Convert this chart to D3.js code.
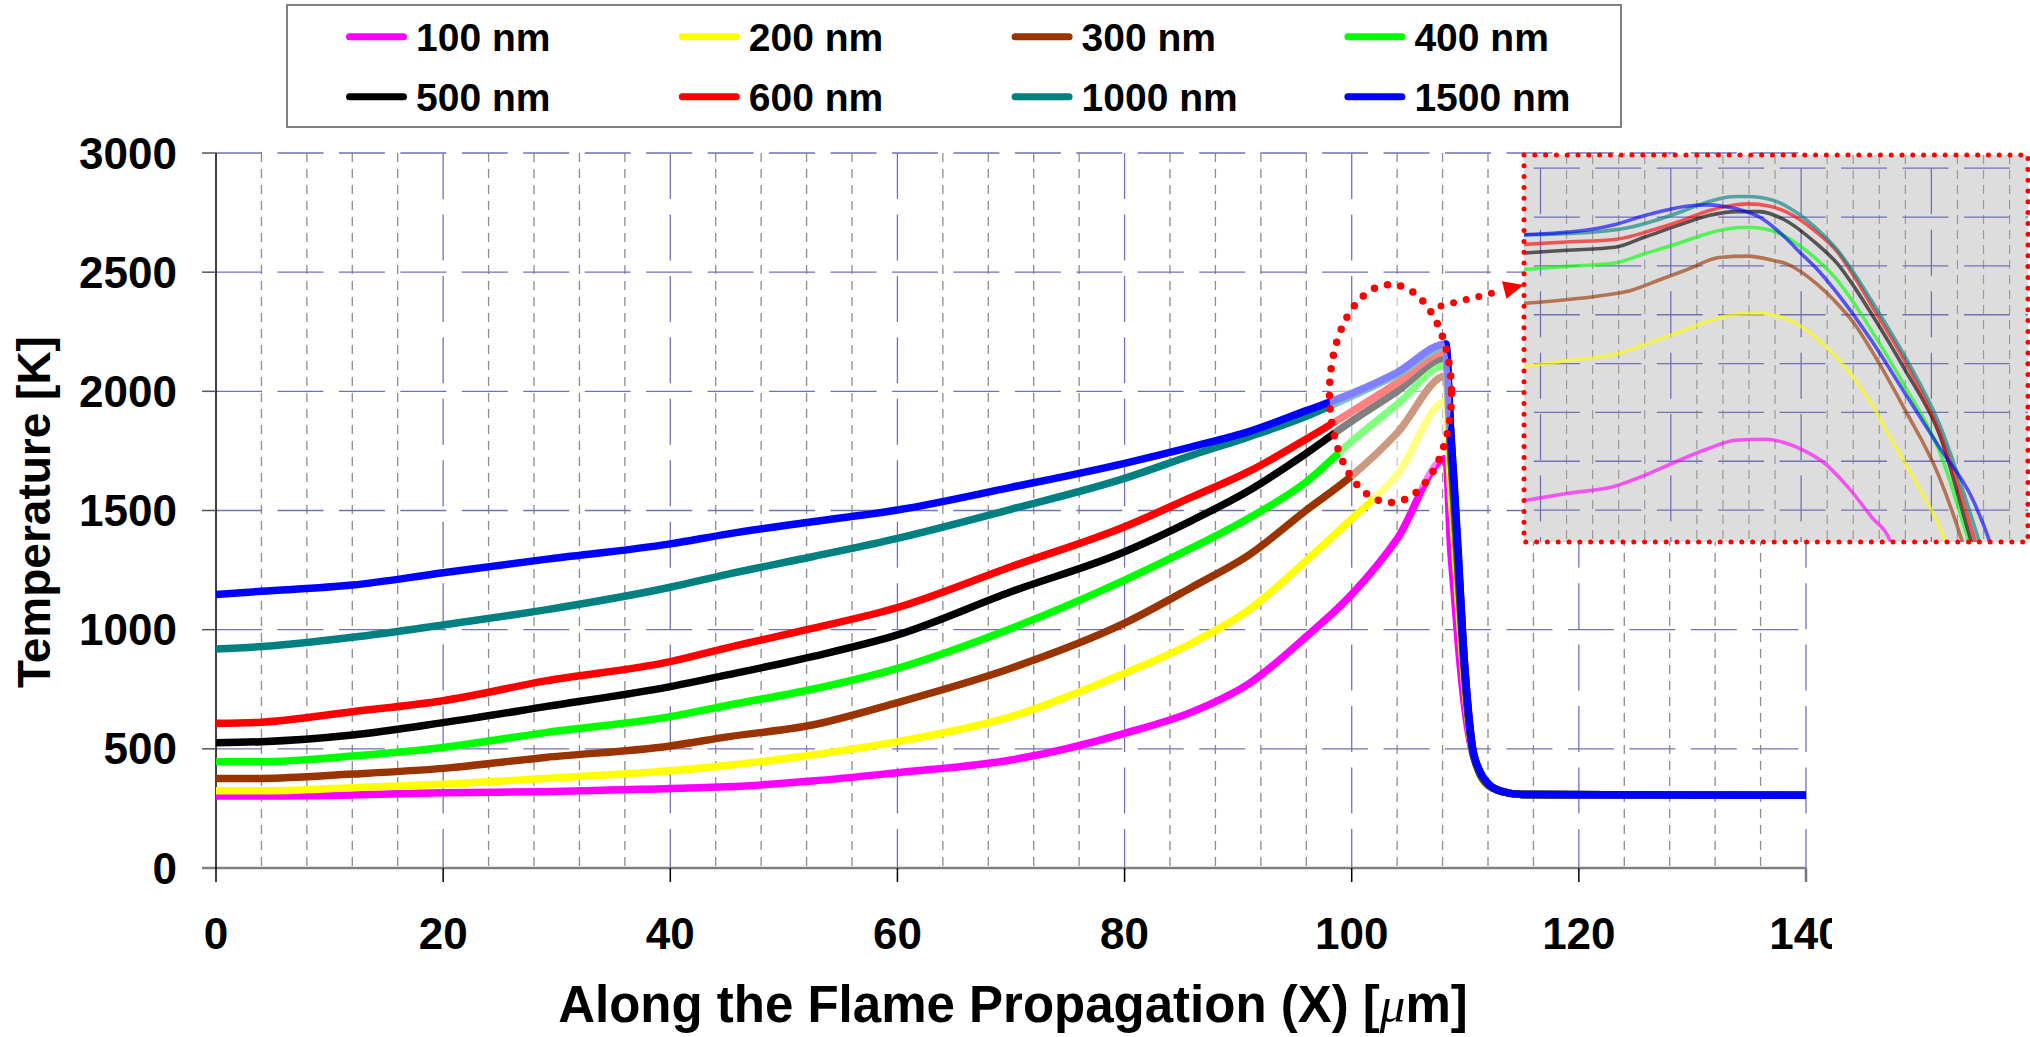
<!DOCTYPE html>
<meta charset="utf-8">
<script src="https://cdn.jsdelivr.net/npm/d3@7"></script>
<style>
body { margin: 0; background: #fff; }
text { font-family: "Liberation Sans", Arial, sans-serif; font-weight: bold; fill: #000; }
</style>
<body>
<script>

var W = 2030, H = 1037

// series
var seriesNames = ["100 nm", "200 nm", "300 nm", "400 nm", "500 nm", "600 nm", "1000 nm", "1500 nm"]
var seriesColors = ["#ff00ff", "#ffff00", "#993300", "#00ff00", "#000000", "#ff0000", "#008080", "#0000ff"]

// main chart: x in micron, temperature in K
var xPos = [0, 4, 12, 20, 29, 40, 45, 52.5, 60, 70, 80, 86, 91, 96, 100, 104, 108.3, 108.7, 109, 109.4, 109.8, 110.2, 110.6, 111.2, 112, 113.3, 115, 140]

var temp100  = [302, 302, 306, 316, 320, 334, 341, 365, 400, 453, 565, 656, 775, 971, 1148, 1381, 1718, 1350, 1170, 930, 735, 590, 490, 410, 350, 322, 308, 305]
var temp200  = [324, 324, 337, 351, 376, 408, 430, 474, 530, 635, 817, 945, 1085, 1290, 1465, 1650, 1959, 1600, 1400, 1100, 850, 640, 500, 405, 348, 321, 308, 305]
var temp300  = [376, 376, 394, 418, 464, 512, 550, 600, 694, 838, 1027, 1180, 1315, 1501, 1645, 1825, 2065, 1750, 1520, 1200, 900, 660, 505, 403, 347, 321, 308, 305]
var temp400  = [446, 446, 470, 506, 568, 635, 682, 750, 838, 1005, 1208, 1345, 1470, 1620, 1790, 1945, 2110, 1800, 1560, 1240, 930, 670, 508, 405, 350, 320, 308, 305]
var temp500  = [526, 530, 558, 610, 677, 761, 810, 887, 978, 1159, 1327, 1460, 1585, 1740, 1875, 2000, 2140, 1820, 1580, 1260, 940, 680, 510, 408, 352, 320, 308, 305]
var temp600  = [607, 612, 656, 702, 785, 866, 924, 1005, 1093, 1264, 1432, 1558, 1665, 1800, 1915, 2035, 2165, 1830, 1600, 1280, 950, 690, 512, 410, 353, 320, 308, 305]
var temp1000 = [919, 929, 968, 1020, 1083, 1178, 1232, 1306, 1383, 1505, 1635, 1733, 1810, 1895, 1980, 2070, 2185, 1840, 1615, 1295, 950, 690, 515, 412, 355, 320, 308, 305]
var temp1500 = [1148, 1161, 1187, 1239, 1295, 1360, 1401, 1453, 1502, 1597, 1698, 1768, 1832, 1919, 1991, 2079, 2199, 1850, 1629, 1308, 950, 700, 515, 415, 355, 320, 308, 305]

var xTicks = [0, 20, 40, 60, 80, 100, 120, 140]
var yTicks = [0, 500, 1000, 1500, 2000, 2500, 3000]

// magnified peak (inset): [x micron, T K]
var inset100  = [[106.8,1616],[107.2,1634],[107.57,1649],[107.8,1671],[108.03,1698],[108.27,1724],[108.5,1743],[108.73,1745],[108.86,1739],[109.07,1715],[109.17,1698],[109.36,1647],[109.54,1586],[109.69,1533],[109.74,1490]]
var inset200  = [[106.8,1890],[107.2,1906],[107.59,1920],[107.85,1944],[108.06,1964],[108.27,1985],[108.5,2001],[108.68,2003],[108.81,1998],[108.99,1978],[109.17,1940],[109.36,1886],[109.54,1818],[109.67,1756],[109.8,1695],[109.93,1634],[110.11,1533],[110.16,1490]]
var inset300  = [[106.8,2022],[107.46,2039],[107.67,2048],[107.9,2070],[108.14,2094],[108.37,2117],[108.59,2120],[108.79,2111],[108.89,2104],[109.12,2063],[109.28,2022],[109.41,1981],[109.54,1927],[109.8,1804],[110.06,1668],[110.24,1533],[110.29,1490]]
var inset400  = [[106.8,2091],[107.2,2099],[107.57,2106],[107.8,2125],[108.09,2149],[108.29,2167],[108.5,2178],[108.59,2179],[108.79,2171],[108.97,2145],[109.17,2101],[109.28,2070],[109.41,2022],[109.54,1968],[109.8,1852],[110.06,1722],[110.29,1533],[110.34,1490]]
var inset500  = [[106.8,2125],[107.2,2132],[107.57,2138],[107.8,2159],[108.09,2186],[108.29,2203],[108.5,2211],[108.68,2211],[108.86,2196],[109.12,2145],[109.28,2104],[109.41,2056],[109.54,2002],[109.8,1886],[110.06,1756],[110.31,1533],[110.36,1490]]
var inset600  = [[106.8,2143],[107.2,2149],[107.57,2154],[107.88,2175],[108.09,2193],[108.29,2213],[108.5,2225],[108.59,2227],[108.76,2222],[108.89,2210],[109.1,2173],[109.28,2128],[109.41,2077],[109.54,2019],[109.8,1903],[110.06,1763],[110.34,1533],[110.39,1490]]
var inset1000 = [[106.8,2163],[107.39,2169],[107.67,2178],[107.88,2193],[108.09,2212],[108.24,2227],[108.4,2239],[108.5,2242],[108.59,2242],[108.79,2234],[108.92,2217],[109.1,2181],[109.28,2132],[109.41,2084],[109.54,2029],[109.8,1913],[110.06,1777],[110.37,1533],[110.42,1490]]
var inset1500 = [[106.8,2163],[107.37,2174],[107.59,2186],[107.8,2203],[108.03,2218],[108.19,2224],[108.29,2225],[108.4,2222],[108.59,2210],[108.68,2200],[108.79,2179],[108.89,2155],[108.99,2128],[109.12,2094],[109.28,2043],[109.54,1947],[109.8,1838],[110.06,1729],[110.32,1620],[110.45,1533],[110.5,1490]]

var insetYGrid = [1600, 1700, 1800, 1900, 2000, 2100, 2200, 2300]
var insetXGrid = [107, 108, 109, 110]

var temps = [temp100, temp200, temp300, temp400, temp500, temp600, temp1000, temp1500]
var insets = [inset100, inset200, inset300, inset400, inset500, inset600, inset1000, inset1500]

var x = d3.scaleLinear().domain([0, 140]).range([216, 1806])
var y = d3.scaleLinear().domain([0, 3000]).range([868, 153])

var svg = d3.select("body").append("svg")
            .attr("width", W)
            .attr("height", H)

var gridBlue = "#7272b8"

// minor vertical grid
svg.append("g").selectAll("line")
   .data(d3.range(4, 140, 4).filter(function(d) { return d % 20 != 0 }))
   .enter().append("line")
   .attr("x1", function(d) { return x(d) }).attr("x2", function(d) { return x(d) })
   .attr("y1", y(3000)).attr("y2", y(0))
   .attr("stroke", "#8c8c8c").attr("stroke-width", 1.3)
   .attr("stroke-dasharray", "9,7")

// major vertical grid
svg.append("g").selectAll("line")
   .data(xTicks.slice(1))
   .enter().append("line")
   .attr("x1", function(d) { return x(d) }).attr("x2", function(d) { return x(d) })
   .attr("y1", y(3000)).attr("y2", y(0))
   .attr("stroke", gridBlue).attr("stroke-width", 1.3)
   .attr("stroke-dasharray", "46,15.45")

// horizontal grid
svg.append("g").selectAll("line")
   .data(yTicks.slice(1))
   .enter().append("line")
   .attr("x1", x(0)).attr("x2", x(140))
   .attr("y1", function(d) { return y(d) }).attr("y2", function(d) { return y(d) })
   .attr("stroke", gridBlue).attr("stroke-width", 1.3)
   .attr("stroke-dasharray", "46,15.45")

// axes
svg.append("line").attr("x1", 202).attr("x2", x(140)).attr("y1", y(0)).attr("y2", y(0))
   .attr("stroke", "#808080").attr("stroke-width", 2.5)
svg.append("line").attr("x1", x(0)).attr("x2", x(0)).attr("y1", y(3000)).attr("y2", y(0) + 14)
   .attr("stroke", "#000").attr("stroke-width", 1.5)

svg.append("g").selectAll("line")
   .data(yTicks.slice(1))
   .enter().append("line")
   .attr("x1", 202).attr("x2", x(0))
   .attr("y1", function(d) { return y(d) }).attr("y2", function(d) { return y(d) })
   .attr("stroke", "#555").attr("stroke-width", 1.5)

svg.append("g").selectAll("line")
   .data(xTicks.slice(1))
   .enter().append("line")
   .attr("x1", function(d) { return x(d) }).attr("x2", function(d) { return x(d) })
   .attr("y1", y(0)).attr("y2", y(0) + 14)
   .attr("stroke", function(d) { return d == 140 ? "#777" : "#000" })
   .attr("stroke-width", function(d) { return d == 140 ? 2.5 : 1.5 })

// curves
var line = d3.line()
             .x(function(d, i) { return x(xPos[i]) })
             .y(function(d) { return y(d) })
             .curve(d3.curveMonotoneX)

svg.append("g").selectAll("path")
   .data(temps)
   .enter().append("path")
   .attr("d", function(d) { return line(d) })
   .attr("fill", "none")
   .attr("stroke", function(d, i) { return seriesColors[i] })
   .attr("stroke-width", 7.5)
   .attr("stroke-linejoin", "round")

// highlight ellipse round the peak
svg.append("ellipse")
   .attr("cx", 1390.5).attr("cy", 393.5).attr("rx", 61).attr("ry", 109)
   .attr("fill", "#fff").attr("fill-opacity", 0.5)
   .attr("stroke", "#ff0000").attr("stroke-width", 7.5)
   .attr("stroke-dasharray", "0,13.5").attr("stroke-linecap", "round")

svg.append("line")
   .attr("x1", 1441).attr("y1", 306).attr("x2", 1500).attr("y2", 291)
   .attr("stroke", "#ff0000").attr("stroke-width", 7)
   .attr("stroke-dasharray", "0,13").attr("stroke-linecap", "round")
svg.append("path")
   .attr("d", "M1523.6,285 L1502,281.3 L1506.5,298.7 Z")
   .attr("fill", "#ff0000")

// inset
var ix = d3.scaleLinear().domain([107, 110]).range([1540.5, 1931.4])
var iy = d3.scaleLinear().domain([1600, 2300]).range([510.1, 168.2])
var ins = { x: 1524, y: 155, w: 504, h: 387 }

svg.append("clipPath").attr("id", "insetClip")
   .append("rect").attr("x", ins.x).attr("y", ins.y).attr("width", ins.w).attr("height", ins.h)

var gi = svg.append("g").attr("clip-path", "url(#insetClip)")
gi.append("rect").attr("x", ins.x).attr("y", ins.y).attr("width", ins.w).attr("height", ins.h)
  .attr("fill", "#dddddd")

gi.append("g").selectAll("line")
  .data(d3.range(106.8, 110.9, 0.2).filter(function(d) { return Math.abs(d - Math.round(d)) > 0.05 }))
  .enter().append("line")
  .attr("x1", function(d) { return ix(d) }).attr("x2", function(d) { return ix(d) })
  .attr("y1", ins.y).attr("y2", ins.y + ins.h)
  .attr("stroke", "#9a9a9a").attr("stroke-width", 1.2)
  .attr("stroke-dasharray", "9,6")

gi.append("g").selectAll("line")
  .data(insetXGrid)
  .enter().append("line")
  .attr("x1", function(d) { return ix(d) }).attr("x2", function(d) { return ix(d) })
  .attr("y1", 106.85).attr("y2", ins.y + ins.h)
  .attr("stroke", gridBlue).attr("stroke-width", 1.3)
  .attr("stroke-dasharray", "46,15.45")

gi.append("g").selectAll("line")
  .data(insetYGrid)
  .enter().append("line")
  .attr("x1", 1472.35).attr("x2", ins.x + ins.w)
  .attr("y1", function(d) { return iy(d) }).attr("y2", function(d) { return iy(d) })
  .attr("stroke", gridBlue).attr("stroke-width", 1.3)
  .attr("stroke-dasharray", "46,15.45")

var iline = d3.line()
              .x(function(d) { return ix(d[0]) })
              .y(function(d) { return iy(d[1]) })
              .curve(d3.curveMonotoneX)

gi.append("g").selectAll("path")
  .data(insets)
  .enter().append("path")
  .attr("d", function(d) { return iline(d) })
  .attr("fill", "none")
  .attr("stroke", function(d, i) { return seriesColors[i] })
  .attr("stroke-opacity", 0.62)
  .attr("stroke-width", 3.6)

svg.append("rect").attr("x", ins.x).attr("y", ins.y).attr("width", ins.w).attr("height", ins.h)
   .attr("fill", "none")
   .attr("stroke", "#ff0000").attr("stroke-width", 5)
   .attr("stroke-dasharray", "0,10.8").attr("stroke-linecap", "round")

// legend
svg.append("rect").attr("x", 287).attr("y", 5).attr("width", 1334).attr("height", 122)
   .attr("fill", "#fff").attr("stroke", "#808080").attr("stroke-width", 2)

var leg = svg.append("g").selectAll("g")
             .data(seriesNames)
             .enter().append("g")
             .attr("transform", function(d, i) {
               return "translate(" + (346 + (i % 4) * 332.8) + "," + (36.7 + Math.floor(i / 4) * 60) + ")" })
leg.append("line").attr("x1", 3.5).attr("x2", 57.5).attr("y1", 0).attr("y2", 0)
   .attr("stroke", function(d, i) { return seriesColors[i] })
   .attr("stroke-width", 7).attr("stroke-linecap", "round")
leg.append("text").attr("x", 70).attr("y", 14)
   .style("font-size", "39px")
   .text(function(d) { return d })

// tick labels
svg.append("g").selectAll("text")
   .data(yTicks)
   .enter().append("text")
   .attr("x", 177).attr("y", function(d) { return y(d) + 15.5 })
   .attr("text-anchor", "end")
   .style("font-size", "44px")
   .text(function(d) { return d })

svg.append("clipPath").attr("id", "tickClip")
   .append("rect").attr("x", 0).attr("y", 880).attr("width", 1832).attr("height", 90)

svg.append("g").attr("clip-path", "url(#tickClip)").selectAll("text")
   .data(xTicks)
   .enter().append("text")
   .attr("x", function(d) { return x(d) }).attr("y", 949)
   .attr("text-anchor", "middle")
   .style("font-size", "44px")
   .text(function(d) { return d })

// axis titles
var xt = svg.append("text")
   .attr("x", 1013).attr("y", 1022)
   .attr("text-anchor", "middle")
   .style("font-size", "51px")
xt.append("tspan").text("Along the Flame Propagation (X) [")
xt.append("tspan").style("font-family", "'Liberation Serif', serif").style("font-style", "italic")
  .style("font-weight", "normal").text("\u03bc")
xt.append("tspan").text("m]")

svg.append("text")
   .attr("transform", "translate(50,512) rotate(-90)")
   .attr("text-anchor", "middle")
   .style("font-size", "46px")
   .text("Temperature [K]")

</script>
</body>
